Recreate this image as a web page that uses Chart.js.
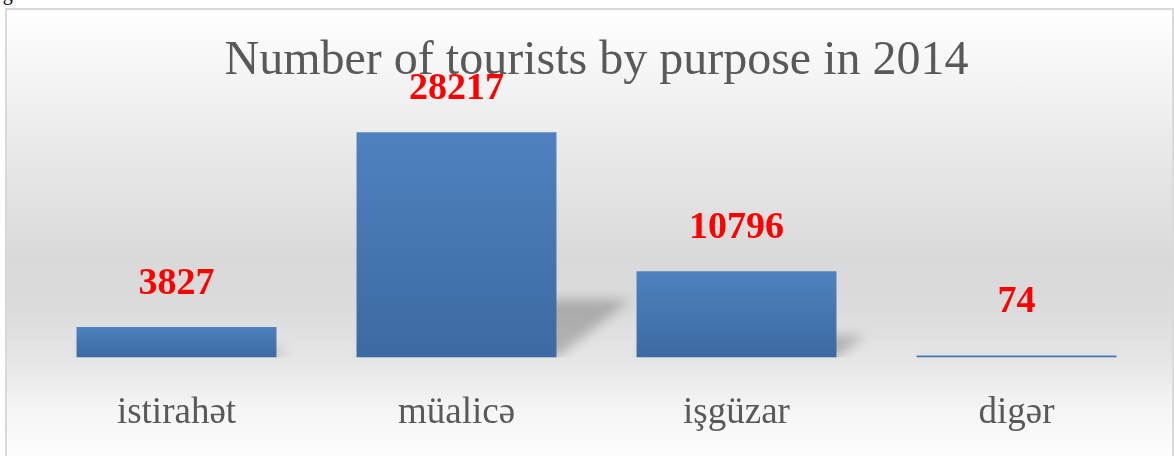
<!DOCTYPE html>
<html>
<head>
<meta charset="utf-8">
<script src="https://cdn.jsdelivr.net/npm/chart.js@4"></script>
<style>
  body { margin: 0; background: #fff; overflow: hidden; }
  #wrap { position: relative; width: 1174px; height: 456px; overflow: hidden; }
  #cap { position: absolute; left: -14px; top: -17px; font: 20px/20px "Liberation Serif"; color: #000; }
  #frame {
    position: absolute; left: 5px; top: 8px; width: 1165px; height: 460px;
    border: 2px solid #d9d9d9; border-bottom: none;
    background: linear-gradient(to bottom, #ffffff 0%, #f0f0f0 20%, #d9d9d9 54%, #dbdbdb 65%, #e8e8e8 78%, #f5f5f5 87%, #ffffff 100%);
  }
  canvas { position: absolute; left: 0; top: 0; }
</style>
</head>
<body>
<div id="wrap">
  <div id="cap">Figure</div>
  <div id="frame"></div>
  <canvas id="chart" width="1174" height="468"></canvas>
</div>
<script>
// chart data
const categories = ['istirahət', 'müalicə', 'işgüzar', 'digər'];
const tourists = [3827, 28217, 10796, 74];

// perspective shadow behind each bar
const shadowPlugin = {
  id: 'barShadow',
  beforeDatasetsDraw(chart) {
    const ctx = chart.ctx;
    const meta = chart.getDatasetMeta(0);
    const base = chart.scales.y.getPixelForValue(0);
    ctx.save();
    ctx.beginPath();
    ctx.rect(0, 0, chart.width, base);
    ctx.clip();
    ctx.filter = 'blur(6px)';
    ctx.fillStyle = 'rgba(0,0,0,0.22)';
    meta.data.forEach(bar => {
      const h = bar.base - bar.y;
      const dy = h * 0.257, dx = dy * 1.28;
      const l = bar.x - bar.width / 2, r = bar.x + bar.width / 2;
      ctx.beginPath();
      ctx.moveTo(l, base);
      ctx.lineTo(r, base);
      ctx.lineTo(r + dx, base - dy);
      ctx.lineTo(l + dx, base - dy);
      ctx.closePath();
      ctx.fill();
    });
    ctx.restore();
  }
};

// red value labels above the bars
const valuePlugin = {
  id: 'valueLabels',
  afterDatasetsDraw(chart) {
    const ctx = chart.ctx;
    const meta = chart.getDatasetMeta(0);
    ctx.save();
    ctx.font = 'bold 38px "Liberation Serif"';
    ctx.fillStyle = '#ff0000';
    ctx.textAlign = 'center';
    ctx.textBaseline = 'middle';
    meta.data.forEach((bar, i) => {
      const y = Math.min(bar.y - 43, bar.base - 55);
      ctx.fillText(String(tourists[i]), bar.x, y);
    });
    ctx.restore();
  }
};

const ctx = document.getElementById('chart').getContext('2d');
new Chart(ctx, {
  type: 'bar',
  data: {
    labels: categories,
    datasets: [{
      data: tourists,
      backgroundColor: function (c) {
        const chart = c.chart;
        if (!chart.chartArea) return '#4a7ebb';
        const y = chart.scales.y;
        const top = y.getPixelForValue(c.raw) - 2;
        const bottom = y.getPixelForValue(0);
        const g = chart.ctx.createLinearGradient(0, top, 0, bottom);
        g.addColorStop(0, '#4f82be');
        g.addColorStop(1, '#3c6aa2');
        return g;
      },
      borderWidth: 0,
      minBarLength: 2,
      barPercentage: 1,
      categoryPercentage: 0.714
    }]
  },
  options: {
    responsive: false,
    animation: false,
    layout: { padding: { left: 36.5, right: 17.5, top: 0, bottom: 0 } },
    plugins: {
      legend: { display: false },
      tooltip: { enabled: false },
      title: {
        display: true,
        text: 'Number of tourists by purpose in 2014',
        color: '#595959',
        font: { family: 'Liberation Serif', size: 48, weight: 'normal', lineHeight: 1 },
        padding: { top: 37, bottom: 1 }
      }
    },
    scales: {
      y: { display: false, min: 0, max: 34000 },
      x: {
        grid: { display: false, drawTicks: false },
        border: { display: false },
        ticks: {
          color: '#595959',
          padding: 33,
          font: { family: 'Liberation Serif', size: 37 }
        }
      }
    }
  },
  plugins: [shadowPlugin, valuePlugin]
});
</script>
</body>
</html>
